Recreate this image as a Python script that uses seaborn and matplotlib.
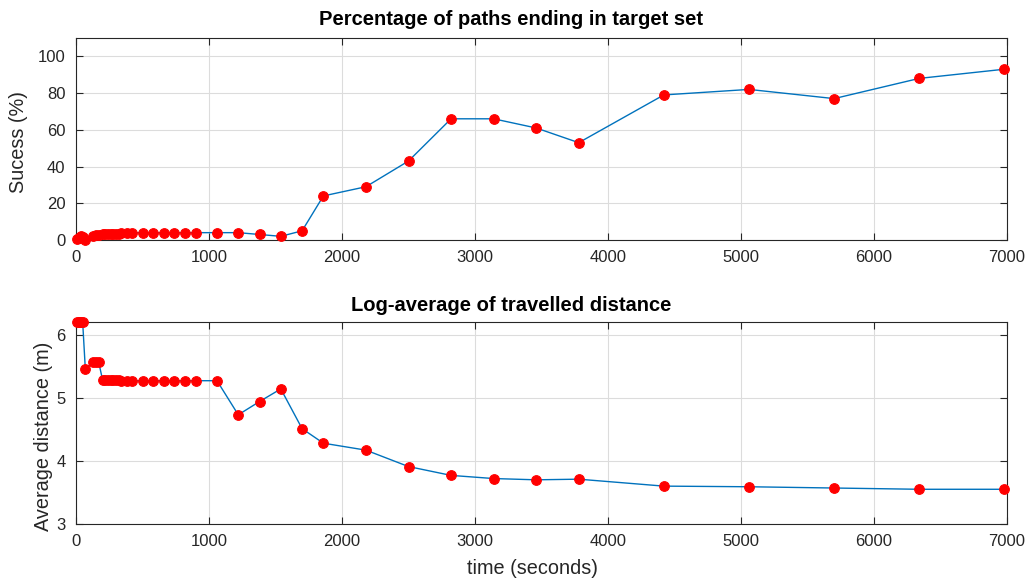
import matplotlib
matplotlib.use("Agg")
import matplotlib.pyplot as plt
import seaborn as sns
import pandas as pd

# Sampling instants (seconds)
time_s = [10, 20, 30, 40, 50, 70, 130, 150, 170, 200, 220, 240, 260, 280, 300,
          320, 340, 380, 420, 500, 580, 660, 740, 820, 900, 1060, 1220, 1380,
          1540, 1700, 1860, 2180, 2500, 2820, 3140, 3460, 3780, 4420, 5060,
          5700, 6340, 6980]

# Share of paths that end inside the target set (%)
success_pct = [0.5, 1, 1.5, 2, 1.5, 0, 2, 2.5, 2.5, 3, 3, 3, 3, 3, 3,
               3.5, 4, 4, 4, 4, 4, 4, 4, 4, 4, 4, 4, 3,
               2, 5, 24, 29, 43, 66, 66, 61, 53, 79, 82,
               77, 88, 93]

# Log-average of travelled distance (m)
avg_distance = [6.2, 6.2, 6.2, 6.2, 6.2, 5.46, 5.57, 5.57, 5.57, 5.28, 5.28, 5.28,
                5.28, 5.28, 5.28, 5.28, 5.27, 5.27, 5.27, 5.27, 5.27, 5.27, 5.27,
                5.27, 5.27, 5.27, 4.73, 4.94, 5.14, 4.51, 4.28, 4.17, 3.91, 3.77,
                3.72, 3.70, 3.71, 3.60, 3.59, 3.57, 3.55, 3.55]

x_ticks = [0, 1000, 2000, 3000, 4000, 5000, 6000, 7000]
top_yticks = [0, 20, 40, 60, 80, 100]
bottom_yticks = [3, 4, 5, 6]

df = pd.DataFrame({"time": time_s, "success": success_pct, "dist": avg_distance})

sns.set_theme(style="white")
plt.rcParams["font.family"] = ["Liberation Sans", "DejaVu Sans"]

LINE = "#0072BD"
AXC = "#262626"

fig = plt.figure(figsize=(10.30, 5.81), dpi=100)
left, width, height = 76 / 1030, 931 / 1030, 202 / 581
ax1 = fig.add_axes([left, 1 - 240 / 581, width, height])
ax2 = fig.add_axes([left, 1 - 524 / 581, width, height])

line_kw = dict(color=LINE, linewidth=1.0, marker="o", markersize=7,
               markerfacecolor="red", markeredgecolor="red",
               estimator=None, sort=False)

sns.lineplot(data=df, x="time", y="success", ax=ax1, **line_kw)
sns.lineplot(data=df, x="time", y="dist", ax=ax2, **line_kw)

ax1.set_ylim(0, 110)
ax1.set_yticks(top_yticks)
ax2.set_ylim(3, 6.2)
ax2.set_yticks(bottom_yticks)

for ax in (ax1, ax2):
    ax.set_xlim(0, 7000)
    ax.set_xticks(x_ticks)
    ax.grid(True, color="#dcdcdc", linewidth=0.8)
    ax.set_axisbelow(True)
    for ln in ax.lines:
        ln.set_clip_on(False)
        ln.set_zorder(3)
    for s in ax.spines.values():
        s.set_color(AXC)
        s.set_linewidth(0.8)
        s.set_visible(True)
    ax.tick_params(direction="in", length=5, width=0.8, color=AXC,
                   labelcolor=AXC, labelsize=12, top=True, right=True,
                   left=True, bottom=True, pad=7.5)
    ax.set_xlabel("")

title_kw = dict(fontsize=14.5, fontweight="bold", color="black",
                ha="center", va="center")
ax1.text(0.467, 1.0 + 18 / 202, "Percentage of paths ending in target set",
         transform=ax1.transAxes, **title_kw)
ax2.text(0.467, 1.0 + 17 / 202, "Log-average of travelled distance",
         transform=ax2.transAxes, **title_kw)

ax1.set_ylabel("Sucess (%)", fontsize=14.3, color=AXC)
ax1.yaxis.set_label_coords(-0.0516, 0.485)
ax2.set_ylabel("Average distance (m)", fontsize=14.3, color=AXC)
ax2.yaxis.set_label_coords(-0.0247, 0.436)
ax2.set_xlabel("time (seconds)", fontsize=14.3, color=AXC)
ax2.xaxis.set_label_coords(0.49, -0.175)

fig.savefig("out.png", dpi=100)
